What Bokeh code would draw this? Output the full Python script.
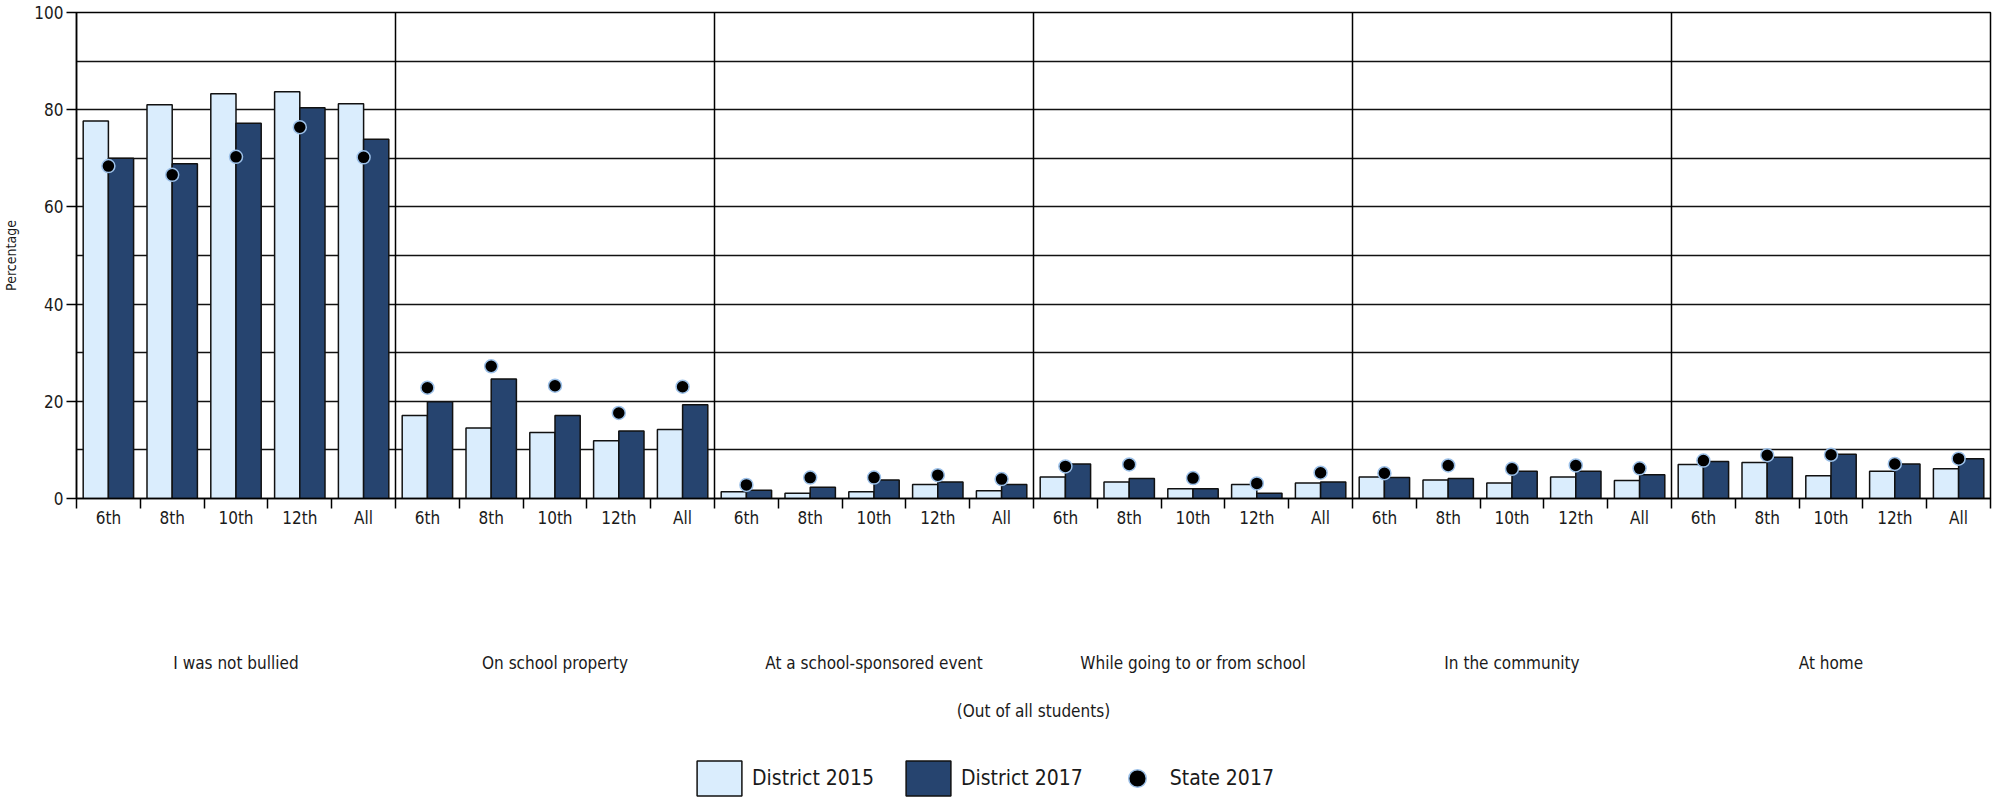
from bokeh.plotting import figure
from bokeh.layouts import column
from bokeh.models import Range1d, FixedTicker, LinearAxis, Span, Legend, LegendItem
from bokeh.embed import file_html
from bokeh.resources import INLINE

groups = ["I was not bullied", "On school property", "At a school-sponsored event",
          "While going to or from school", "In the community", "At home"]
grades = ["6th", "8th", "10th", "12th", "All"]

district_2015 = [77.7, 81.0, 83.3, 83.7, 81.2,
                 17.1, 14.5, 13.6, 11.9, 14.2,
                 1.4, 1.1, 1.4, 2.9, 1.6,
                 4.4, 3.4, 2.0, 2.9, 3.2,
                 4.4, 3.8, 3.2, 4.4, 3.7,
                 7.0, 7.4, 4.7, 5.6, 6.1]
district_2017 = [70.0, 68.9, 77.2, 80.4, 73.9,
                 19.9, 24.6, 17.1, 13.9, 19.3,
                 1.7, 2.3, 3.8, 3.4, 2.9,
                 7.1, 4.1, 2.0, 1.1, 3.4,
                 4.3, 4.1, 5.6, 5.6, 4.9,
                 7.6, 8.5, 9.1, 7.1, 8.2]
state_2017 = [68.4, 66.6, 70.3, 76.4, 70.2,
              22.8, 27.2, 23.2, 17.6, 23.0,
              2.8, 4.3, 4.3, 4.8, 4.0,
              6.6, 7.0, 4.2, 3.1, 5.3,
              5.2, 6.8, 6.1, 6.8, 6.2,
              7.8, 8.9, 9.0, 7.1, 8.2]

series_names = ["District 2015", "District 2017", "State 2017"]
y_ticks = [0, 20, 40, 60, 80, 100]
y_grid = [0, 10, 20, 30, 40, 50, 60, 70, 80, 90, 100]

FONT = "DejaVu Sans Condensed, DejaVu Sans, sans-serif"
LIGHT = "#daedfd"
DARK = "#26446f"
EDGE = "#111111"
DOT_EDGE = "#9cc0e8"
TEXT = "#1a1a1a"

n_grades = len(grades)
n = len(groups) * n_grades
slot = 2  # each grade occupies 2 x-units
centers = [slot * i + slot / 2 for i in range(n)]
bw = 0.79
x_light = [c - bw / 2 for c in centers]
x_dark = [c + bw / 2 for c in centers]

BL, BR = 73, 2

p = figure(width=1992, height=756, output_backend="svg", toolbar_location=None,
           x_range=Range1d(0, slot * n), y_range=Range1d(0, 100),
           min_border_left=BL, min_border_right=BR, min_border_top=12, min_border_bottom=258)
p.background_fill_color = "white"
p.outline_line_color = "black"
p.outline_line_width = 1.5

r1 = p.vbar(x=x_light, top=district_2015, width=bw, bottom=0, fill_color=LIGHT,
            line_color=EDGE, line_width=1.5)
r2 = p.vbar(x=x_dark, top=district_2017, width=bw, bottom=0, fill_color=DARK,
            line_color=EDGE, line_width=1.5)
r3 = p.scatter(x=centers, y=state_2017, size=13, fill_color="black",
               line_color=DOT_EDGE, line_width=1.5)

# group separators
for k in range(1, len(groups)):
    p.add_layout(Span(location=slot * n_grades * k, dimension="height",
                      line_color="black", line_width=1.5))

# grid
p.xgrid.visible = False
p.ygrid.ticker = FixedTicker(ticks=y_grid)
p.ygrid.grid_line_color = EDGE
p.ygrid.grid_line_width = 1.5

# y axis
ya = p.yaxis[0]
ya.ticker = FixedTicker(ticks=y_ticks)
ya.axis_label = "Percentage"
ya.axis_label_text_font = FONT
ya.axis_label_text_font_size = "14px"
ya.axis_label_text_font_style = "normal"
ya.axis_label_text_color = TEXT
ya.axis_label_standoff = 12
ya.major_label_text_font = FONT
ya.major_label_text_font_size = "17px"
ya.major_label_text_color = TEXT
ya.major_label_standoff = 3
ya.major_tick_out = 10
ya.major_tick_in = 0
ya.minor_tick_line_color = None
ya.axis_line_width = 1.5
ya.major_tick_line_width = 1.5

# x axis (grades)
xa = p.xaxis[0]
xa.ticker = FixedTicker(ticks=centers, minor_ticks=[slot * i for i in range(n + 1)])
xa.major_label_overrides = {int(c): g for c, g in zip(centers, grades * len(groups))}
xa.major_tick_line_color = None
xa.major_tick_out = 0
xa.major_tick_in = 0
xa.minor_tick_out = 10
xa.minor_tick_in = 0
xa.minor_tick_line_width = 1.5
xa.axis_line_width = 1.5
xa.major_label_text_font = FONT
xa.major_label_text_font_size = "17px"
xa.major_label_text_color = TEXT
xa.major_label_standoff = -1

# group axis
group_centers = [slot * n_grades * k + slot * n_grades / 2 for k in range(len(groups))]
ga = LinearAxis(ticker=FixedTicker(ticks=group_centers),
                major_label_overrides={int(c): g for c, g in zip(group_centers, groups)})
ga.axis_line_color = None
ga.major_tick_line_color = None
ga.minor_tick_line_color = None
ga.major_tick_out = 0
ga.major_tick_in = 0
ga.minor_tick_out = 0
ga.major_label_text_font = FONT
ga.major_label_text_font_size = "17px"
ga.major_label_text_color = TEXT
ga.major_label_standoff = 122
ga.axis_label = "(Out of all students)"
ga.axis_label_text_font = FONT
ga.axis_label_text_font_size = "17px"
ga.axis_label_text_font_style = "normal"
ga.axis_label_text_color = TEXT
ga.axis_label_standoff = 25
p.add_layout(ga, "below")

# legend strip: a separate figure whose (hidden) copies of the series
# only serve the legend
lf = figure(width=1992, height=44, output_backend="svg", toolbar_location=None,
            x_range=Range1d(0, slot * n), y_range=Range1d(0, 100),
            x_axis_location=None, y_axis_location=None,
            min_border_left=BL, min_border_right=BR, min_border_top=0, min_border_bottom=0)
lf.grid.visible = False
lf.outline_line_color = None
l1 = lf.vbar(x=x_light, top=district_2015, width=bw, bottom=0, fill_color=LIGHT,
             line_color=EDGE, line_width=1.5, visible=False)
l2 = lf.vbar(x=x_dark, top=district_2017, width=bw, bottom=0, fill_color=DARK,
             line_color=EDGE, line_width=1.5, visible=False)
l3 = lf.scatter(x=centers, y=state_2017, size=13, fill_color="black",
                line_color=DOT_EDGE, line_width=1.5, visible=False)

legend = Legend(items=[LegendItem(label=series_names[0], renderers=[l1]),
                       LegendItem(label=series_names[1], renderers=[l2]),
                       LegendItem(label=series_names[2], renderers=[l3])],
                orientation="horizontal", location=(615, 0),
                border_line_color=None, background_fill_alpha=0,
                inactive_fill_alpha=0,
                padding=0, margin=0, spacing=26, label_standoff=5,
                glyph_width=56, glyph_height=44,
                label_text_font=FONT, label_text_font_size="21px",
                label_text_color=TEXT)
lf.add_layout(legend)

layout = column(p, lf, spacing=0)
open("out.html", "w").write(file_html(layout, INLINE))
